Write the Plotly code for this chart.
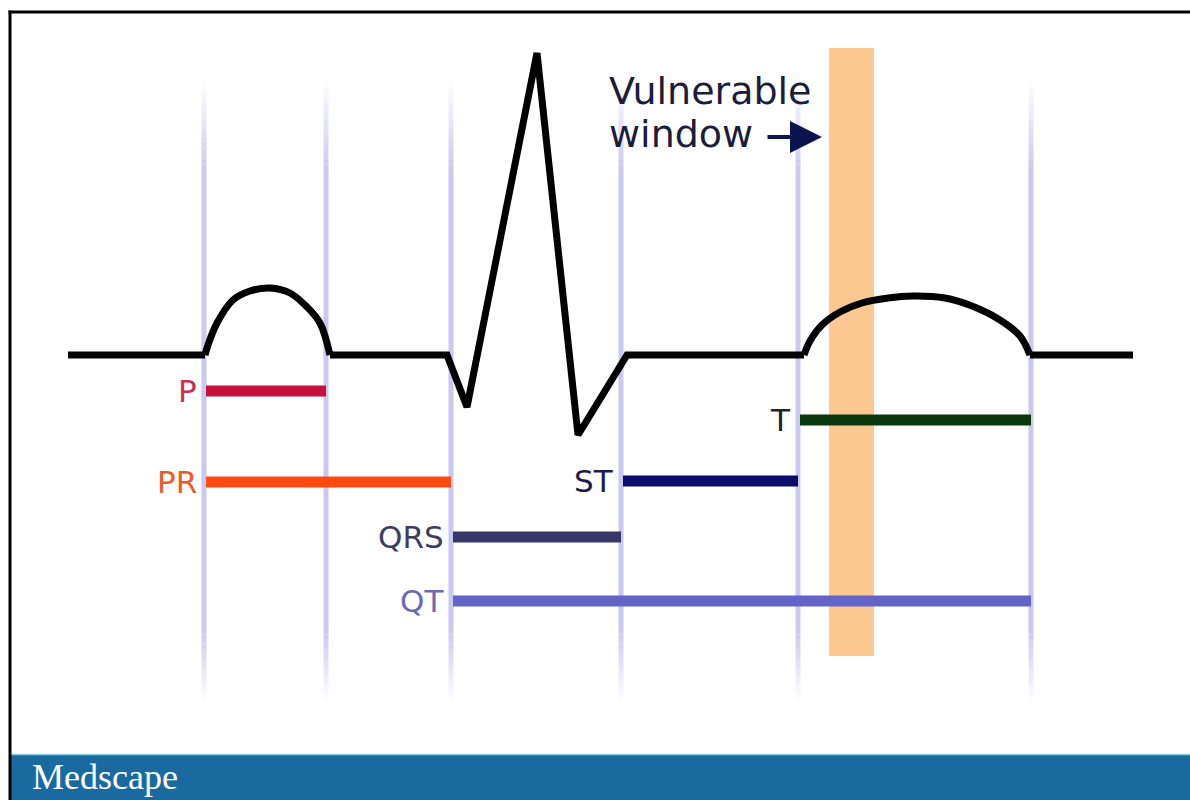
import plotly.graph_objects as go

# ---------------- data ----------------
# ECG trace (pixel-like units, y grows downward)
base_x = [68, 205, None, 330, 447, 467, 537, 578, 627, 804, None, 1030, 1133]
base_y = [355, 355, None, 355, 355, 407, 53, 435, 355, 355, None, 355, 355]

p_wave_x = [205, 208, 217, 233, 250, 270, 290, 307, 320, 330]
p_wave_y = [355, 345, 323, 300, 291, 288, 293, 307, 323, 355]

t_wave_x = [804, 810, 822, 840, 862, 888, 913, 945, 972, 1000, 1020, 1030]
t_wave_y = [355, 341, 325, 312, 303, 298, 296, 298, 306, 320, 336, 355]

# interval boundaries (vertical guide lines)
boundaries = [204, 326, 451, 621, 798, 1031]

# intervals: name, start, end, row
interval_names = ["P", "PR", "QRS", "ST", "T", "QT"]
interval_start = [204, 204, 451, 621, 798, 451]
interval_end = [326, 451, 621, 798, 1031, 1031]
interval_row = [391, 482, 537, 481, 420, 601]
interval_colors = ["#c5103c", "#ff4a12", "#37376a", "#0c0c6c", "#0a380c", "#6464c8"]
label_colors = ["#c93050", "#f05a2a", "#3c3c64", "#1c1c4c", "#222222", "#6a6ab8"]

# vulnerable window
vuln_x = [829, 874]
vuln_y = [48, 656]

W, H = 1190, 800

fig = go.Figure()

shapes = []
# vertical guide lines with faded ends
guide_col = (200, 200, 240)
top0, top1 = 80, 170
bot0, bot1 = 630, 702
N = 16
for bx in boundaries:
    shapes.append(dict(type="line", xref="x", yref="y", x0=bx, x1=bx, y0=top1, y1=bot0,
                       line=dict(color="rgb(%d,%d,%d)" % guide_col, width=5), layer="below"))
    for i in range(N):
        a = top0 + (top1 - top0) * i / N
        b = top0 + (top1 - top0) * (i + 1) / N
        op = (i + 0.5) / N
        shapes.append(dict(type="line", xref="x", yref="y", x0=bx, x1=bx, y0=a, y1=b,
                           line=dict(color="rgba(%d,%d,%d,%.3f)" % (*guide_col, op), width=5),
                           layer="below"))
        a = bot0 + (bot1 - bot0) * i / N
        b = bot0 + (bot1 - bot0) * (i + 1) / N
        op = 1 - (i + 0.5) / N
        shapes.append(dict(type="line", xref="x", yref="y", x0=bx, x1=bx, y0=a, y1=b,
                           line=dict(color="rgba(%d,%d,%d,%.3f)" % (*guide_col, op), width=5),
                           layer="below"))

# vulnerable window band
shapes.append(dict(type="rect", xref="x", yref="y", x0=vuln_x[0], x1=vuln_x[1],
                   y0=vuln_y[0], y1=vuln_y[1], fillcolor="#fbc892", line=dict(width=0),
                   layer="below"))

# bottom banner
shapes.append(dict(type="rect", xref="x", yref="y", x0=11, x1=W + 5, y0=755, y1=H + 5,
                   fillcolor="#1a6aa2", line=dict(width=0), layer="above"))
shapes.append(dict(type="line", xref="x", yref="y", x0=11, x1=W + 5, y0=754.5, y1=754.5,
                   line=dict(color="#8ed0e0", width=1.5), layer="above"))
# frame
shapes.append(dict(type="line", xref="x", yref="y", x0=8.5, x1=W + 5, y0=12, y1=12,
                   line=dict(color="black", width=3), layer="above"))
shapes.append(dict(type="line", xref="x", yref="y", x0=10, x1=10, y0=10.5, y1=H + 5,
                   line=dict(color="black", width=3), layer="above"))

# interval bars
for name, s, e, r, c in zip(interval_names, interval_start, interval_end, interval_row, interval_colors):
    fig.add_trace(go.Scatter(x=[s + 2, e], y=[r, r], mode="lines",
                             line=dict(color=c, width=11), hoverinfo="skip", showlegend=False))

# ECG waveform
fig.add_trace(go.Scatter(x=base_x, y=base_y, mode="lines", connectgaps=False,
                         line=dict(color="black", width=7), hoverinfo="skip", showlegend=False))
fig.add_trace(go.Scatter(x=p_wave_x, y=p_wave_y, mode="lines", line_shape="spline",
                         line=dict(color="black", width=7), hoverinfo="skip", showlegend=False))
fig.add_trace(go.Scatter(x=t_wave_x, y=t_wave_y, mode="lines", line_shape="spline",
                         line=dict(color="black", width=7), hoverinfo="skip", showlegend=False))

annotations = []
for name, s, r, c in zip(interval_names, interval_start, interval_row, label_colors):
    annotations.append(dict(x=s - 5, y=r, xref="x", yref="y", text=name, showarrow=False,
                            xanchor="right", yanchor="middle",
                            font=dict(family="DejaVu Sans", size=31, color=c)))

annotations.append(dict(x=607, y=91, xref="x", yref="y", text="Vulnerable", showarrow=False,
                        xanchor="left", yanchor="middle",
                        font=dict(family="DejaVu Sans", size=38, color="#1c1c3c")))
annotations.append(dict(x=607, y=134, xref="x", yref="y", text="window", showarrow=False,
                        xanchor="left", yanchor="middle",
                        font=dict(family="DejaVu Sans", size=38, color="#1c1c3c")))
annotations.append(dict(x=822, y=137, ax=766, ay=137, xref="x", yref="y", axref="x", ayref="y",
                        text="", showarrow=True, arrowhead=2, arrowsize=1.6, arrowwidth=4,
                        arrowcolor="#0c1450"))
annotations.append(dict(x=30, y=777, xref="x", yref="y", text="Medscape", showarrow=False,
                        xanchor="left", yanchor="middle",
                        font=dict(family="Liberation Serif", size=36, color="white")))

fig.update_layout(
    width=W, height=H, margin=dict(l=0, r=0, t=0, b=0),
    paper_bgcolor="white", plot_bgcolor="white",
    xaxis=dict(range=[0, W], visible=False, fixedrange=True),
    yaxis=dict(range=[H, 0], visible=False, fixedrange=True),
    shapes=shapes, annotations=annotations, showlegend=False,
)

fig.write_html(
    "out.html",
    config={"displayModeBar": False, "staticPlot": True},
    post_script="document.body.style.margin='0';document.body.style.overflow='hidden';"
                "document.documentElement.style.overflow='hidden';",
)
